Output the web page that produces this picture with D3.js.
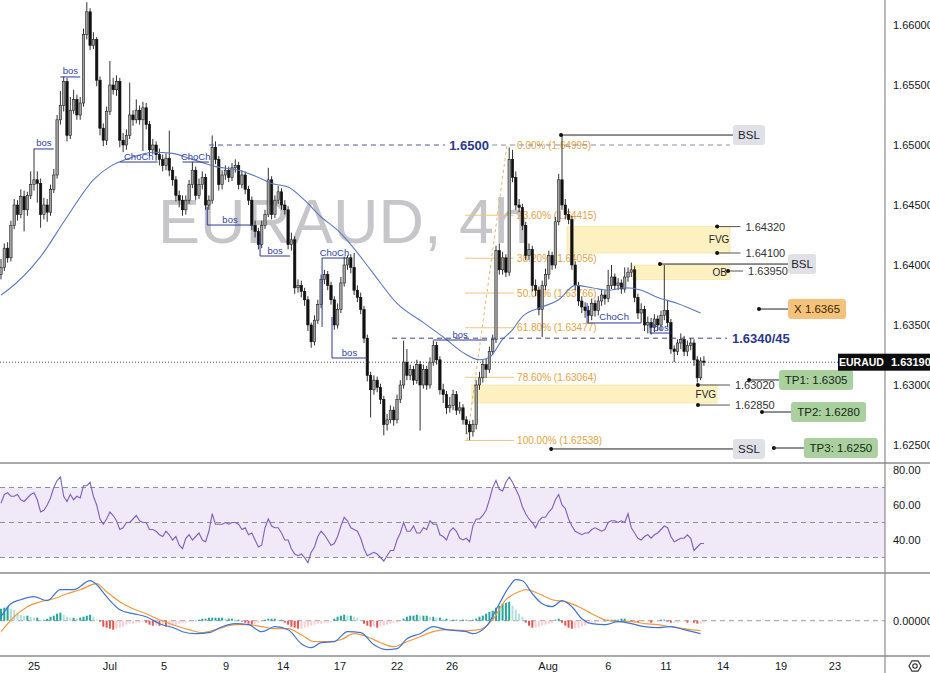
<!DOCTYPE html>
<html><head><meta charset="utf-8">
<script src="https://cdn.jsdelivr.net/npm/d3@7"></script>
<style>html,body{margin:0;padding:0;background:#fff;overflow:hidden}svg{display:block;font-family:"Liberation Sans",Arial,sans-serif}</style>
</head><body><svg id="c" width="930" height="673"></svg>
<script>
// ---------- DATA (prices as pips above 1.6000, 4H candles) ----------
const PIP_BASE = 1.6;
const firstOpen = 392;
const closePips = [398,414,406,433,450,442,457,446,458,467,
471,468,442,450,444,463,475,521,533,553,
508,529,538,525,535,592,611,583,588,554,
514,504,528,550,546,553,504,500,508,525,
521,529,521,531,517,496,500,492,488,483,
489,479,471,458,454,446,454,467,479,458,
467,473,450,454,498,488,467,475,479,473,
481,483,467,475,463,454,433,428,417,433,
442,471,442,454,461,450,446,417,421,381,
383,378,371,350,336,354,367,388,392,383,
371,350,363,385,400,406,398,379,373,363,
339,308,296,304,298,288,267,271,279,271,
288,300,319,308,313,304,317,300,313,300,
319,333,321,296,292,281,283,292,279,281,
271,267,261,267,300,306,317,313,328,338,
412,396,406,394,488,473,450,448,433,408,
413,383,379,363,383,392,408,400,436,471,
450,442,438,400,383,370,365,362,358,368,
362,370,375,372,383,390,383,385,380,390,
394,396,373,360,363,350,352,348,355,350,
358,362,352,330,328,335,338,328,333,335,
321,306,320,319];
const highPips = [405,418,419,437,455,454,463,462,461,478,
497,478,472,456,455,467,480,525,545,557,
556,540,546,542,540,597,619,614,594,590,
557,518,532,570,556,558,556,510,513,552,
529,538,533,536,535,520,505,503,497,492,
493,512,482,474,462,458,458,471,486,482,
472,478,476,458,508,503,491,479,483,482,
485,488,486,479,478,466,457,437,431,437,
446,481,474,458,466,464,454,449,427,424,
388,387,381,374,352,358,371,392,396,395,
386,374,368,390,407,408,409,410,383,377,
366,342,311,308,307,301,291,276,283,282,
292,304,337,330,317,316,321,320,317,316,
323,337,336,324,301,295,290,296,295,286,
284,274,270,271,304,311,321,322,332,342,
416,418,411,409,498,496,478,455,451,436,
418,416,388,382,387,397,412,411,440,476,
508,455,447,441,403,386,374,369,366,372,
371,374,380,379,396,400,393,389,388,398,
398,402,399,376,368,366,357,356,359,358,
362,400,370,355,333,338,343,341,337,339,
338,324,323,324];
const lowPips = [388,395,402,403,430,437,439,428,441,455,
462,452,431,438,436,441,460,472,517,528,
503,505,526,521,521,532,588,579,580,549,
508,499,500,525,542,541,498,494,496,505,
516,518,517,495,513,491,492,487,483,478,
479,474,466,453,448,441,442,451,464,454,
455,463,446,446,451,484,462,463,471,469,
470,477,463,464,459,450,429,423,413,414,
430,440,438,439,451,446,442,413,412,376,
377,373,366,345,331,333,351,364,384,379,
367,346,347,360,382,396,393,375,369,359,
335,303,273,292,294,284,258,262,268,266,
268,285,297,304,304,300,301,262,297,296,
297,316,317,292,285,276,277,279,275,276,
267,259,254,257,263,296,302,306,310,325,
335,392,392,390,391,469,446,444,429,404,
404,378,374,358,340,379,388,396,397,433,
446,438,434,396,379,366,360,356,352,354,
357,358,366,367,369,380,379,379,376,377,
386,390,369,355,352,345,343,342,344,345,
345,354,348,326,319,325,330,324,324,329,
316,302,304,316];
// moving average (read at sample candles): [candle index, pips]
const maPoints = [[0,375],[2,379],[12,407],[20,440],[28,471],[33,482],[36,486],[40,490],[46,494],[52,493],[58,488],[65,482],[72,479],[78,473],[82,468],[87,465],[92,454],[97,440],[102,429],[106,417],[112,396],[120,368],[128,352],[134,340],[140,327],[145,321],[148,323],[152,338],[155,346],[158,357],[164,365],[169,371],[174,383],[179,381],[184,379],[189,381],[194,379],[199,373],[205,368],[212,360]];
const rsiValues = [61,66,67,65,65,66,63,62,64,66,
67,63,56,57,60,64,70,74,76,65,
62,66,63,65,64,71,71,73,65,60,
52,49,52,56,54,51,46,47,50,50,
52,54,51,50,50,46,46,45,43,42,
45,43,40,42,37,35,41,43,40,42,
44,40,39,45,55,49,49,49,50,49,
50,50,49,46,47,43,44,40,36,37,
47,52,48,47,47,44,40,40,35,32,
31,32,30,27,33,36,42,45,43,40,
37,38,42,48,53,51,47,46,45,41,
35,31,32,33,32,30,28,31,34,34,
40,44,50,45,45,48,44,44,47,46,
51,49,49,43,42,40,45,47,45,41,
40,41,39,48,52,52,54,57,63,70,
74,69,68,73,76,73,69,65,59,55,
52,50,47,51,53,53,56,58,63,66,
60,58,52,48,45,44,43,44,44,46,
47,46,45,46,50,51,51,50,51,50,
55,47,44,41,40,42,43,41,43,44,
46,48,47,42,39,40,41,41,43,41,
34,36,38,38];
// MACD / signal (x1e-4) read at sample candles
const macdPoints = [[0,4],[3,17],[6,21],[10,24],[14,20],[18,31],[22,31],[27,40],[29,36],[32,24],[36,11],[40,7],[44,4],[48,-3],[53,-8],[55,-11],[59,-13],[63,-12],[67,-6],[71,-3],[75,-4],[79,-11],[83,-6],[87,-9],[91,-23],[94,-27],[97,-22],[101,-21],[105,-11],[109,-12],[113,-24],[117,-29],[120,-28],[123,-18],[127,-13],[131,-6],[135,-9],[141,-11],[143,-13],[147,-6],[151,17],[154,34],[156,41],[158,40],[161,27],[164,17],[167,14],[170,20],[173,14],[176,2],[179,-3],[183,-4],[187,-1],[191,-3],[195,-6],[199,-7],[203,-6],[207,-9],[212,-13]];
const signalPoints = [[0,-11],[4,4],[8,14],[12,19],[16,22],[20,27],[24,31],[29,37],[32,29],[36,19],[40,12],[44,7],[48,1],[53,-5],[57,-9],[61,-12],[65,-9],[71,-4],[75,-4],[79,-6],[83,-8],[87,-8],[91,-14],[95,-21],[99,-21],[103,-19],[107,-13],[111,-16],[115,-22],[119,-26],[123,-21],[127,-16],[131,-11],[135,-9],[141,-10],[145,-9],[149,1],[153,21],[157,29],[159,31],[163,27],[167,21],[171,19],[175,14],[179,7],[183,1],[187,-1],[191,-1],[195,-3],[199,-4],[203,-6],[207,-8],[212,-10]];
const histValues = [12,13,14,12,11,8,6,5,5,4,
3,3,1,1,2,4,5,7,8,6,
4,3,3,2,3,4,5,6,4,1,
-1,-6,-7,-8,-9,-8,-7,-6,-4,-3,
-3,-2,-2,-1,-2,-4,-5,-4,-5,-4,
-6,-6,-5,-4,-3,-2,-2,-1,-1,0,
1,2,2,3,3,3,3,3,2,2,
2,1,1,-1,-2,-3,-4,-3,-2,-1,
1,2,2,2,1,1,-2,-4,-6,-7,
-8,-8,-7,-6,-5,-4,-3,-3,-2,-2,
-1,2,4,5,6,5,5,4,3,1,
-3,-5,-6,-6,-7,-6,-5,-4,-3,-2,
-2,-1,2,4,5,5,6,5,5,5,
4,4,3,3,2,2,1,1,1,0,
1,1,0,1,2,4,5,7,9,10,
13,15,17,18,19,15,11,7,4,-2,
-5,-7,-7,-6,-5,-4,-3,-2,1,2,
-2,-5,-7,-8,-8,-7,-6,-5,-3,-2,
-2,-1,-1,0,1,1,1,1,2,2,
1,-1,-1,-2,-1,-1,-1,-2,-1,-1,
1,1,-1,-2,-2,-2,-1,-1,-2,-1,
-2,-3,-3,-2];
const xTickLabels = ["25","Jul","5","9","14","17","22","26","Aug","6","11","14","19","23"];
const xTickIndex = [10,33,49.4,68.2,85.5,102.7,120,136.7,165.8,184,201.5,218.8,236.4,252.7];
const priceTicks = [1.625,1.63,1.635,1.64,1.645,1.65,1.655,1.66];
const rsiTicks = [40,60,80];
const rsiBands = [70,50,30];
const fibLabels = ["0.00%","23.60%","38.20%","50.00%","61.80%","78.60%","100.00%"];
const fibPrices = [1.64995,1.64415,1.64056,1.63766,1.63477,1.63064,1.62538];
const lastPrice = 1.6319;
// structure (bos / ChoCh) drawings: [candle index, price]
const structures = [
 {t:"bos", pts:[[10,1.64967],[16,1.64967]]},
 {t:"bos", pts:[[18,1.65567],[24,1.65567]]},
 {t:"ChoCh", pts:[[36,1.64858],[47.5,1.64858]]},
 {t:"ChoCh", pts:[[55,1.64858],[63,1.64858]]},
 {t:"bos", pts:[[62.5,1.64483],[62.5,1.64333],[76.3,1.64333]]},
 {t:"bos", pts:[[78.5,1.64267],[78.5,1.64075],[87.6,1.64075]]},
 {t:"ChoCh", pts:[[97.3,1.63483],[97.3,1.64058],[104.8,1.64058]]},
 {t:"bos", pts:[[100.3,1.63567],[100.3,1.63225],[110.9,1.63225]]},
 {t:"bos", pts:[[131,1.63375],[147.3,1.63375]]},
 {t:"ChoCh", pts:[[177.6,1.63683],[177.6,1.63517],[194,1.63517]]},
 {t:"bos", pts:[[196.7,1.63517],[196.7,1.63433],[203.3,1.63433]]}
];
const zones = [
 {label:"FVG", top:1.6432, bot:1.6410, i0:171.5, i1:220.9, li:217.6},
 {label:"OB", top:1.6400, bot:1.6388, i0:191.2, i1:220.9, li:217.8},
 {label:"FVG", top:1.6300, bot:1.6285, i0:142.7, i1:217, li:213.6}
];
const levelTexts = ["1.64320","1.64100","1.63950","1.63020","1.62850"];
const levelPrices = [1.6432,1.6410,1.6395,1.6300,1.62833];
const levelDotIdx = [217,217,220.3,211.2,211.2];
const levelTextIdx = [225.6,225.6,226.4,222.4,222.4];
const tags = [
 {label:"BSL", kind:"gray", dot:[169.7,1.65083], box:221.8, w:32},
 {label:"SSL", kind:"gray", dot:[166.7,1.62467], box:221.8, w:32},
 {label:"BSL", kind:"gray", dot:[199.7,1.64008], box:238.5, w:28},
 {label:"X 1.6365", kind:"orange", dot:[229.7,1.63633], box:238.5, w:58},
 {label:"TP1: 1.6305", kind:"green", dot:[226.7,1.63042], box:235.8, w:74},
 {label:"TP2: 1.6280", kind:"green", dot:[230.6,1.62775], box:239.4, w:75},
 {label:"TP3: 1.6250", kind:"green", dot:[234.2,1.62475], box:243.3, w:74}
];

// ---------- SCALES ----------
const P = v => PIP_BASE + v/10000;
const AXX = 885, MAIN_B = 463, RSI_B = 573, MACD_B = 656;
const x = d3.scaleLinear().domain([0,213]).range([1,703.9]);
const y = d3.scaleLinear().domain([1.625,1.66]).range([445,25]);
const yR = d3.scaleLinear().domain([30,70]).range([557.5,487.5]);
const yM = d3.scaleLinear().domain([-10,10]).range([630.7,610.7]);
const svg = d3.select("#c");
const NAVY = "#2c3794", FIB = "#e6a23c", TXT = "#131722";

const defs = svg.append("defs");
defs.append("clipPath").attr("id","cm").append("rect").attr("x",0).attr("y",0).attr("width",AXX).attr("height",MAIN_B);
const main = svg.append("g").attr("clip-path","url(#cm)");

// watermark
main.append("text").attr("x",158).attr("y",243).attr("font-size",63).attr("fill","#c6c6ca").text("EURAUD, 4h");

// zones
zones.forEach(z=>{
  main.append("rect").attr("x",x(z.i0)).attr("y",y(z.top)).attr("width",x(z.i1)-x(z.i0)).attr("height",y(z.bot)-y(z.top))
    .attr("fill","#fdf1c2").attr("stroke","#f6e6a6").attr("stroke-width",0.8);
});

// fibonacci
const fibI0 = 140.6, fibI1 = 155.4, fibTxt = 156.4;
fibPrices.forEach((p,k)=>{
  if(k>0) main.append("line").attr("x1",x(fibI0)).attr("x2",x(fibI1)).attr("y1",y(p)).attr("y2",y(p)).attr("stroke","#f0c47c").attr("stroke-width",1);
  main.append("text").attr("x",x(fibTxt)).attr("y",y(p)+3.6).attr("font-size",10).attr("fill",FIB)
    .text(fibLabels[k]+" ("+d3.format(".5f")(p)+")");
});
main.append("line").attr("x1",x(141.2)).attr("y1",y(fibPrices[6])).attr("x2",x(153.3)).attr("y2",y(fibPrices[0]))
  .attr("stroke","#eab46a").attr("stroke-dasharray","3,3").attr("stroke-width",1);

// candles
const candles = closePips.map((c,i)=>({i, o: i? closePips[i-1] : firstOpen, c, h: highPips[i], l: lowPips[i]}));
const cg = main.append("g");
cg.selectAll("line.w").data(candles).join("line").attr("class","w")
  .attr("x1",d=>x(d.i)).attr("x2",d=>x(d.i)).attr("y1",d=>y(P(d.h))).attr("y2",d=>y(P(d.l)))
  .attr("stroke","#1c1c1c").attr("stroke-width",0.9);
cg.selectAll("rect").data(candles).join("rect")
  .attr("x",d=>x(d.i)-1.2).attr("width",2.4)
  .attr("y",d=>y(P(Math.max(d.o,d.c))))
  .attr("height",d=>Math.max(0.8,Math.abs(y(P(d.o))-y(P(d.c)))))
  .attr("fill",d=>d.c>=d.o?"#a3a3a3":"#111")
  .attr("stroke",d=>d.c>=d.o?"#222":"#111").attr("stroke-width",0.6);

// moving average
main.append("path").datum(maPoints).attr("fill","none").attr("stroke","#5a79c2").attr("stroke-width",1.1)
  .attr("d",d3.line().x(d=>x(d[0])).y(d=>y(P(d[1]))).curve(d3.curveMonotoneX));

// level dashed lines
const dash = (i0,i1,p,col)=>main.append("line").attr("x1",x(i0)).attr("x2",x(i1)).attr("y1",y(p)).attr("y2",y(p))
  .attr("stroke",col).attr("stroke-width",1).attr("stroke-dasharray","5,4");
dash(63,134.5,1.65,"#4b55a0");
dash(148.8,220.9,1.65,"#8a8ea8");
dash(118.5,220,1.6339,"#3d4690");
main.append("text").attr("x",x(135.8)).attr("y",y(1.65)+4.5).attr("font-size",13).attr("font-weight","bold").attr("fill",NAVY).text("1.6500");
main.append("text").attr("x",x(221.5)).attr("y",y(1.6339)+4.5).attr("font-size",13).attr("font-weight","bold").attr("fill",NAVY).text("1.6340/45");

// current price dotted line
main.append("line").attr("x1",0).attr("x2",838).attr("y1",y(lastPrice)).attr("y2",y(lastPrice))
  .attr("stroke","#444").attr("stroke-dasharray","1,2").attr("stroke-width",1);

// structures
structures.forEach(s=>{
  main.append("path").datum(s.pts).attr("fill","none").attr("stroke",NAVY).attr("stroke-width",1)
    .attr("d",d3.line().x(d=>x(d[0])).y(d=>y(d[1])));
  const a = s.pts[s.pts.length-2], b = s.pts[s.pts.length-1];
  main.append("text").attr("x",(x(a[0])+x(b[0]))/2).attr("y",y(b[1])-2.5).attr("text-anchor","middle")
    .attr("font-size",9.5).attr("fill","#3242a8").text(s.t);
});

// zone labels
zones.forEach(z=>{
  main.append("text").attr("x",x(z.li)).attr("y",(y(z.top)+y(z.bot))/2+3.5).attr("text-anchor","middle")
    .attr("font-size",10).attr("fill","#222").text(z.label);
});

// level markers
levelTexts.forEach((t,k)=>{
  const yy = y(levelPrices[k]);
  main.append("line").attr("x1",x(levelDotIdx[k])).attr("x2",x(levelTextIdx[k])-5).attr("y1",yy).attr("y2",yy).attr("stroke","#555").attr("stroke-width",1);
  main.append("circle").attr("cx",x(levelDotIdx[k])).attr("cy",yy).attr("r",2).attr("fill","#111");
  main.append("text").attr("x",x(levelTextIdx[k])).attr("y",yy+4).attr("font-size",11).attr("fill","#333").text(t);
});

// tags
const tagStyle = {gray:["#dfe1e6","#1e222d"], orange:["#f5c27c","#3a2600"], green:["#a9d09e","#142814"]};
tags.forEach(t=>{
  const yy = y(t.dot[1]);
  main.append("line").attr("x1",x(t.dot[0])).attr("x2",x(t.box)).attr("y1",yy).attr("y2",yy).attr("stroke","#222").attr("stroke-width",1);
  main.append("circle").attr("cx",x(t.dot[0])).attr("cy",yy).attr("r",2).attr("fill","#111");
  main.append("rect").attr("x",x(t.box)).attr("y",yy-10).attr("width",t.w).attr("height",20).attr("rx",3)
    .attr("fill",tagStyle[t.kind][0]);
  main.append("text").attr("x",x(t.box)+t.w/2).attr("y",yy+4).attr("text-anchor","middle").attr("font-size",11.5)
    .attr("fill",tagStyle[t.kind][1]).text(t.label);
});

// ---------- RSI ----------
svg.append("rect").attr("x",0).attr("width",AXX).attr("y",yR(70)).attr("height",yR(30)-yR(70)).attr("fill","#efe9f8");
rsiBands.forEach(v=>svg.append("line").attr("x1",0).attr("x2",AXX).attr("y1",yR(v)).attr("y2",yR(v))
  .attr("stroke","#8e8e94").attr("stroke-dasharray","5,4").attr("stroke-width",1));
svg.append("path").datum(rsiValues).attr("fill","none").attr("stroke","#7e5fbf").attr("stroke-width",1.1)
  .attr("d",d3.line().x((d,i)=>x(i)).y(d=>yR(d)));

// ---------- MACD ----------
svg.append("line").attr("x1",0).attr("x2",AXX).attr("y1",yM(0)).attr("y2",yM(0)).attr("stroke","#9a9aa0").attr("stroke-dasharray","5,4");
svg.append("g").selectAll("rect").data(histValues).join("rect")
  .attr("x",(d,i)=>x(i)-1).attr("width",2)
  .attr("y",d=>Math.min(yM(d),yM(0))).attr("height",d=>Math.max(0.6,Math.abs(yM(d)-yM(0))))
  .attr("fill",(d,i)=>{const pv=i?histValues[i-1]:d; return d>=0?(d>=pv?"#26a69a":"#b2dfdb"):(d<pv?"#ef5350":"#ffcdd2");});
svg.append("path").datum(signalPoints).attr("fill","none").attr("stroke","#f39a3c").attr("stroke-width",1.2)
  .attr("d",d3.line().x(d=>x(d[0])).y(d=>yM(d[1])).curve(d3.curveMonotoneX));
svg.append("path").datum(macdPoints).attr("fill","none").attr("stroke","#4173d6").attr("stroke-width",1.2)
  .attr("d",d3.line().x(d=>x(d[0])).y(d=>yM(d[1])).curve(d3.curveMonotoneX));

// ---------- FRAME & AXES ----------
[MAIN_B,RSI_B,MACD_B].forEach(v=>svg.append("line").attr("x1",0).attr("x2",930).attr("y1",v).attr("y2",v).attr("stroke","#8c8c8c").attr("stroke-width",1.4));
svg.append("line").attr("x1",AXX).attr("x2",AXX).attr("y1",0).attr("y2",673).attr("stroke","#8c8c8c").attr("stroke-width",1.2);

priceTicks.forEach(t=>svg.append("text").attr("x",893).attr("y",y(t)+4).attr("font-size",11).attr("fill",TXT).text(d3.format(".5f")(t)));
rsiTicks.forEach(t=>svg.append("text").attr("x",893).attr("y",yR(t)+4).attr("font-size",11).attr("fill",TXT).text(d3.format(".2f")(t)));
svg.append("text").attr("x",893).attr("y",yM(0)+4).attr("font-size",11).attr("fill",TXT).text(d3.format(".5f")(0));
xTickLabels.forEach((t,k)=>svg.append("text").attr("x",x(xTickIndex[k])).attr("y",670).attr("text-anchor","middle").attr("font-size",11).attr("fill",TXT).text(t));

// last price labels
const ly = y(lastPrice);
svg.append("rect").attr("x",838).attr("y",ly-8.5).attr("width",47).attr("height",17).attr("fill","#0c0c0c");
svg.append("text").attr("x",861.5).attr("y",ly+4).attr("text-anchor","middle").attr("font-size",10.5).attr("font-weight","bold").attr("fill","#fff").text("EURAUD");
svg.append("rect").attr("x",885).attr("y",ly-8.5).attr("width",45).attr("height",17).attr("fill","#0c0c0c");
svg.append("text").attr("x",891).attr("y",ly+4).attr("font-size",11).attr("font-weight","bold").attr("fill","#fff").text(d3.format(".5f")(lastPrice));

// settings icon
const gi = svg.append("g").attr("transform","translate(915,666)");
gi.append("path").attr("d",d3.line()(d3.range(6).map(k=>[6*Math.cos(k*Math.PI/3),6*Math.sin(k*Math.PI/3)]))+"Z").attr("fill","none").attr("stroke","#333").attr("stroke-width",1.2);
gi.append("circle").attr("r",2.2).attr("fill","none").attr("stroke","#333").attr("stroke-width",1.2);
</script></body></html>
